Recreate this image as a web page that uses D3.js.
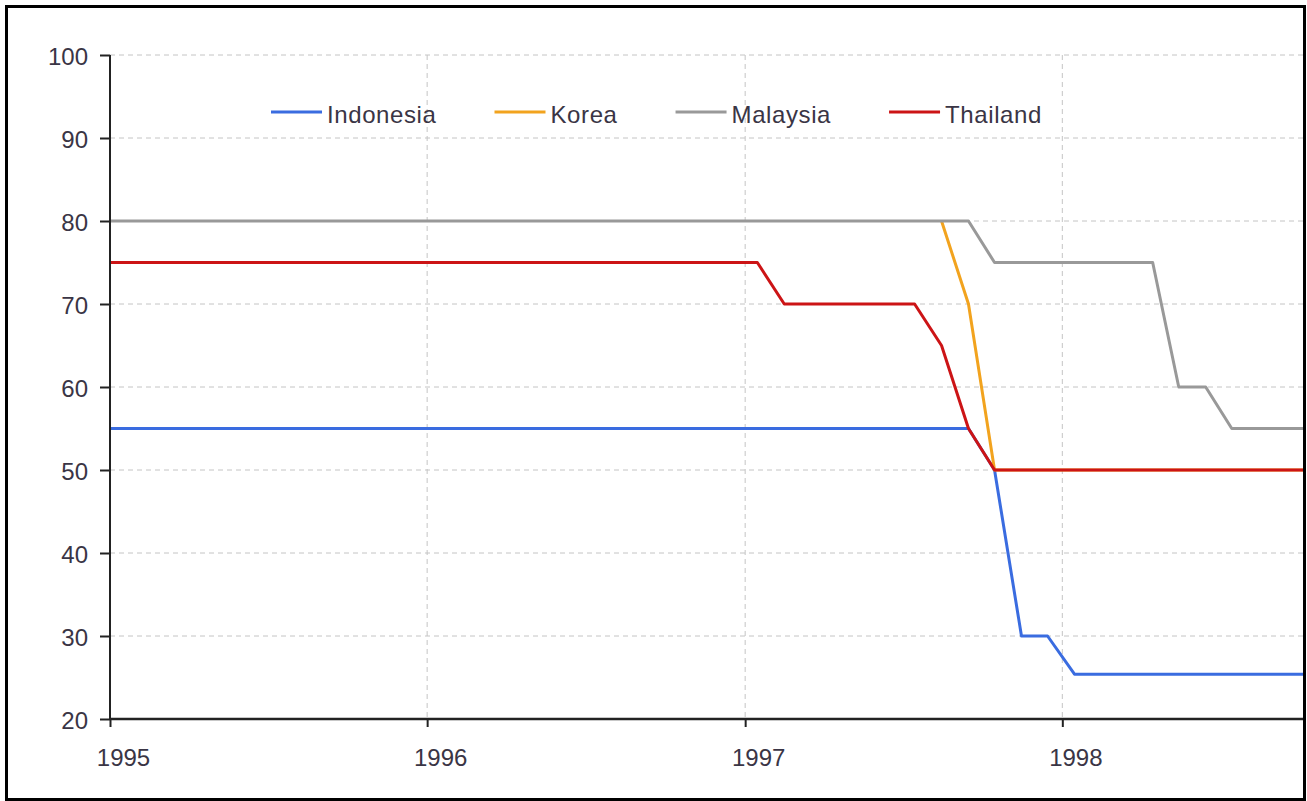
<html>
<head>
<script src="https://cdn.jsdelivr.net/npm/d3@7"></script>
<title>Capital adequacy lines</title>
<style>
  body { margin: 0; background: #fff; }
  text { font-family: Arial, "Liberation Sans", sans-serif; }
</style>
</head>
<body>
<script>
// series names and colours for the legend
var seriesNames = ["Indonesia", "Korea", "Malaysia", "Thailand"];
var seriesColors = ["#3a6ce0", "#f2a31e", "#999999", "#cc1416"];

// monthly values, Dec 1994 .. Oct 1998 (47 months)
var indonesia = [55,55,55,55,55,55,55,55,55,55,55,55,55,55,55,55,55,55,55,55,55,55,55,55,
                 55,55,55,55,55,55,55,55,55,55,50,30,30,25.4,25.4,25.4,25.4,25.4,25.4,25.4,25.4,25.4,25.4];
var korea = [null,null,null,null,null,null,null,null,null,null,null,null,null,null,null,null,
             null,null,null,null,null,null,null,null,null,null,null,null,null,null,null,null,
             80,70,50,50,50,50,50,50,50,50,50,50,50,50,50];
var malaysia = [80,80,80,80,80,80,80,80,80,80,80,80,80,80,80,80,80,80,80,80,80,80,80,80,
                80,80,80,80,80,80,80,80,80,80,75,75,75,75,75,75,75,60,60,55,55,55,55];
var thailand = [75,75,75,75,75,75,75,75,75,75,75,75,75,75,75,75,75,75,75,75,75,75,75,75,
                75,75,70,70,70,70,70,70,65,55,50,50,50,50,50,50,50,50,50,50,50,50,50];

// tick labels
var yearTicks = ["1995", "1996", "1997", "1998"];
var valueTicks = [20, 30, 40, 50, 60, 70, 80, 90, 100];

// months, each point sits in the middle of its month
var months = d3.timeMonth.range(new Date(1994, 11, 1), new Date(1998, 10, 1))
  .map(function(d) { return d3.timeDay.offset(d, 14); });

var W = 1307, H = 801;
var plotLeft = 110, plotRight = 1303, plotTop = 55, plotBottom = 719;
var textColor = "#3a3545";

var svg = d3.select("body").append("svg")
  .attr("width", W).attr("height", H);

// time scale: years are ~317 px apart, the plot stops at the frame
var x = d3.scaleTime()
  .domain([new Date(1995, 0, 1), new Date(1998, 9, 5)])
  .range([plotLeft, plotRight]);
var y = d3.scaleLinear().domain([20, 100]).range([plotBottom, plotTop]);

var yearDates = yearTicks.map(function(t) { return new Date(+t, 0, 1); });

// gridlines
svg.append("g").selectAll("line")
  .data(valueTicks.slice(1)).enter().append("line")
  .attr("x1", plotLeft).attr("x2", plotRight)
  .attr("y1", function(d) { return y(d); }).attr("y2", function(d) { return y(d); })
  .attr("stroke", "#c4c4c4").attr("stroke-width", 1).attr("stroke-dasharray", "5,4");

svg.append("g").selectAll("line")
  .data(yearDates.slice(1)).enter().append("line")
  .attr("x1", function(d) { return x(d); }).attr("x2", function(d) { return x(d); })
  .attr("y1", plotTop).attr("y2", plotBottom)
  .attr("stroke", "#c4c4c4").attr("stroke-width", 1).attr("stroke-dasharray", "5,4");

// clip so lines end at the axis and the frame
svg.append("clipPath").attr("id", "plot")
  .append("rect").attr("x", plotLeft).attr("y", 0).attr("width", plotRight - plotLeft).attr("height", H);

var allSeries = [indonesia, korea, malaysia, thailand];
var line = d3.line()
  .defined(function(d) { return d != null; })
  .x(function(d, i) { return x(months[i]); })
  .y(function(d) { return y(d); });

svg.append("g").attr("clip-path", "url(#plot)")
  .selectAll("path").data(allSeries).enter().append("path")
  .attr("d", line)
  .attr("fill", "none")
  .attr("stroke", function(d, i) { return seriesColors[i]; })
  .attr("stroke-width", 3)
  .attr("stroke-linejoin", "round");

// axes
var yAxis = d3.axisLeft(y).tickValues(valueTicks).tickSize(10).tickPadding(12);
var gy = svg.append("g").attr("transform", "translate(" + plotLeft + ",0)").call(yAxis);
gy.select(".domain").attr("stroke", "#222").attr("stroke-width", 2).attr("d", "M0," + plotTop + "V" + plotBottom);
gy.selectAll(".tick line").attr("stroke", "#222").attr("stroke-width", 2);
gy.selectAll(".tick text")
  .attr("font-size", 24).attr("fill", textColor)
  .attr("font-family", "Arial, 'Liberation Sans', sans-serif")
  .attr("dy", "0.38em");

var xAxis = d3.axisBottom(x).tickValues(yearDates)
  .tickFormat(function(d, i) { return yearTicks[i]; })
  .tickSize(8).tickPadding(22);
var gx = svg.append("g").attr("transform", "translate(0," + plotBottom + ")").call(xAxis);
gx.select(".domain").attr("stroke", "#222").attr("stroke-width", 2.5).attr("d", "M" + plotLeft + ",0H" + plotRight);
gx.selectAll(".tick line").attr("stroke", "#222").attr("stroke-width", 2);
gx.selectAll(".tick text")
  .attr("font-size", 24).attr("fill", textColor)
  .attr("font-family", "Arial, 'Liberation Sans', sans-serif")
  .attr("x", 13);

// legend across the top
var legend = svg.append("g");
var lx = 271, ly = 112;
seriesNames.forEach(function(name, i) {
  legend.append("line")
    .attr("x1", lx).attr("x2", lx + 51).attr("y1", ly).attr("y2", ly)
    .attr("stroke", seriesColors[i]).attr("stroke-width", 3);
  var t = legend.append("text")
    .attr("x", lx + 56).attr("y", ly + 2)
    .attr("dominant-baseline", "central")
    .attr("font-size", 24).attr("letter-spacing", 0.6)
    .attr("fill", textColor)
    .text(name);
  lx = lx + 56 + t.node().getComputedTextLength() + 58;
});

// outer frame
svg.append("rect")
  .attr("x", 6.5).attr("y", 6.5).attr("width", 1298).attr("height", 793)
  .attr("fill", "none").attr("stroke", "#000").attr("stroke-width", 3);
</script>
</body>
</html>
